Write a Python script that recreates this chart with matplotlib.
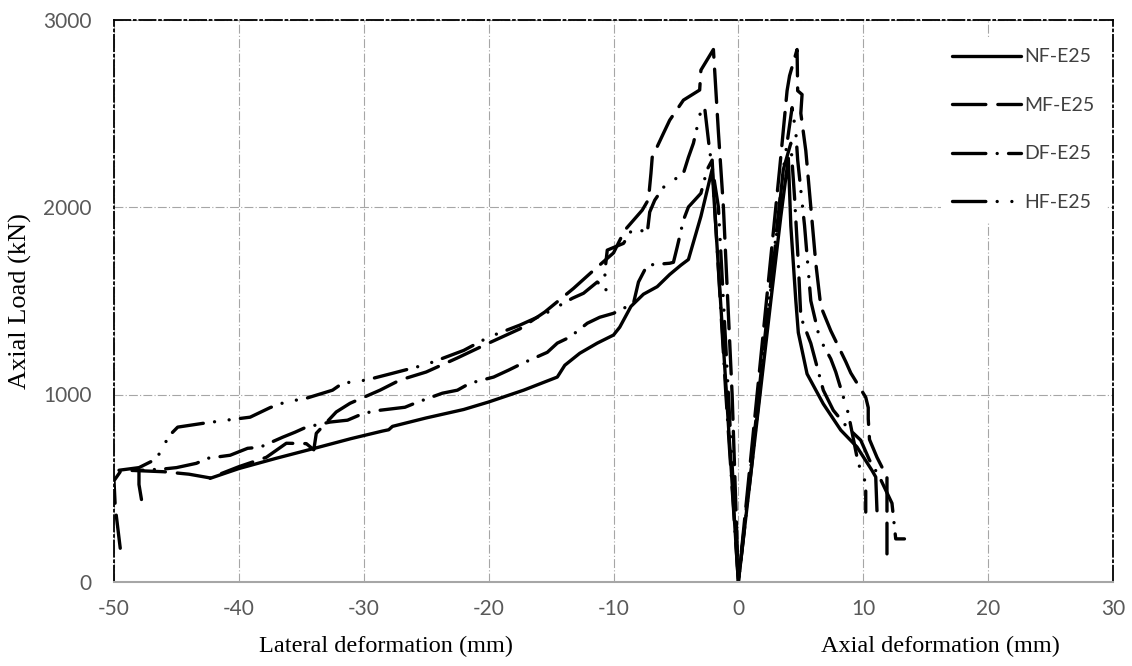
import matplotlib
matplotlib.use("Agg")
import matplotlib.pyplot as plt

plt.rcParams["axes.unicode_minus"] = False

# load-deformation curves: lateral branch (negative x) then axial branch (positive x)
nf_x = [-42.3, -40, -37, -34, -31, -28.5, -28, -27.7, -25, -22, -20, -17.2, -14.5, -13.9,
        -12.7, -11.3, -10.0, -9.5, -8.6, -7.6, -6.5, -5.5, -4.6, -4.0, -3.0, -2.1, -1.0, 0,
        1.3, 2.6, 3.4, 4.0, 4.2, 4.6, 4.8, 5.5, 6.8, 8.2, 9.5, 10.7, 11.0, 11.1]
nf_y = [553, 605, 660, 712, 765, 805, 812, 830, 875, 920, 960, 1023, 1093, 1156,
        1220, 1274, 1317, 1359, 1470, 1535, 1575, 1640, 1690, 1720, 1950, 2200, 1050, 0,
        750, 1500, 1950, 2260, 1900, 1500, 1330, 1110, 950, 810, 720, 595, 560, 380]

mf_x = [-49.5, -49.9, -50, -49.5, -48.5, -46, -44, -42.3, -40, -37.8, -36.2, -34.6, -34.0,
        -33.8, -32.2, -31.1, -28.7, -27.1, -25, -22.5, -20, -17.5, -15.5, -13.2, -11.6, -10,
        -9.1, -7.7, -7.2, -7.0, -6.9, -6.0, -5.5, -4.4, -3.1, -3.0, -2.0, -1.6, -1.2, -0.5, 0,
        1.2, 2.4, 3.3, 3.9, 4.1, 4.7, 4.75, 5.1, 5.0, 5.4, 5.6, 5.8, 6.2, 6.6, 7.4, 8.6, 9.0,
        10.2, 10.4, 10.4, 10.5, 11.1, 11.9, 11.9]
mf_y = [180, 400, 540, 588, 595, 588, 575, 555, 615, 665, 740, 738, 705,
        793, 907, 953, 1023, 1077, 1120, 1195, 1274, 1350, 1440, 1566, 1662, 1755,
        1876, 1983, 2040, 2180, 2265, 2393, 2463, 2570, 2624, 2730, 2840, 2400, 2000, 1000, 0,
        800, 1600, 2200, 2620, 2700, 2840, 2620, 2600, 2500, 2300, 2150, 2000, 1700, 1470, 1340, 1175, 1115,
        985, 930, 870, 760, 665, 560, 150]

df_x = [-47.8, -48.0, -48, -46, -45, -43.4, -42.5, -40.7, -39.3, -38.3, -36.5, -35.5, -34.6,
        -32.7, -31.3, -30, -28.7, -26.7, -25.7, -23.7, -22.5, -21.5, -19.6, -18.4, -17.3, -15.3,
        -14.5, -13.5, -12.1, -11.1, -10, -8.4, -8.0, -7.3, -5.5, -5.2, -4.9, -4.4, -4.0, -3.0,
        -2.5, -2.1, -1.9, -1.0, 0,
        1.3, 2.6, 3.6, 4.2, 4.5, 4.8, 5.0, 5.8, 6.8, 7.6, 8.7, 9.8, 10.5, 11.3, 12.3, 12.6, 13.3]
df_y = [440, 520, 595, 603, 610, 633, 660, 676, 713, 719, 772, 799, 826,
        853, 863, 900, 916, 932, 959, 1007, 1023, 1060, 1093, 1130, 1166, 1225,
        1274, 1306, 1380, 1412, 1433, 1486, 1600, 1690, 1700, 1705, 1786, 1930, 2000, 2073,
        2200, 2250, 2000, 1000, 0,
        800, 1600, 2200, 2340, 2050, 1700, 1413, 1273, 1023, 916, 826, 756, 650, 560, 420, 230, 230]

hf_x = [-49.6, -48, -46.8, -46.1, -45.7, -44.9, -42.9, -41, -39.1, -37.5, -36.3, -34.6, -32.5,
        -31.7, -29.8, -27.7, -25, -22, -20, -17.5, -15.5, -13.3, -12.4, -11.3, -10.6, -10.7,
        -10.5, -9.2, -8.4, -7.6, -7.3, -7.1, -6.7, -6, -4.4, -4.0, -3.6, -3.0, -2.7, -2.3, -1.6,
        -0.8, 0,
        1.2, 2.5, 3.6, 4.3, 4.6, 4.75, 5.3, 5.8, 6.5, 7.4, 7.8, 8.8, 9.6, 9.9, 10.2, 10.2]
hf_y = [596, 610, 650, 705, 772, 826, 846, 863, 879, 930, 959, 980, 1023,
        1060, 1077, 1113, 1160, 1235, 1306, 1370, 1430, 1513, 1540, 1600, 1556, 1650,
        1770, 1806, 1892, 1870, 1860, 1973, 2036, 2105, 2180, 2265, 2340, 2515, 2530, 2300, 2000,
        1000, 0,
        700, 1500, 2200, 2530, 2400, 2250, 1900, 1500, 1300, 1190, 1120, 900, 632, 585, 525, 373]

labels = ["NF-E25", "MF-E25", "DF-E25", "HF-E25"]
dashes = [None, (10, 3.6), (10, 3.4, 0.01, 3.4), (10, 3.4, 0.01, 4.4, 0.01, 3.4)]

fig = plt.figure(figsize=(11.32, 6.66), dpi=100)
ax = fig.add_axes([114 / 1132, 1 - 582 / 666, 999 / 1132, 562.5 / 666])

series = [(nf_x, nf_y), (mf_x, mf_y), (df_x, df_y), (hf_x, hf_y)]
for (xs, ys), lab, d in zip(series, labels, dashes):
    line, = ax.plot(xs, ys, color="black", lw=2.4, label=lab,
                    solid_capstyle="round", dash_capstyle="round", solid_joinstyle="round")
    if d is not None:
        line.set_dashes(d)

ax.set_xlim(-50, 30)
ax.set_ylim(0, 3000)
ax.set_xticks(range(-50, 31, 10))
ax.set_yticks([0, 1000, 2000, 3000])
ax.grid(True, color="#a6a6a6", lw=0.8, linestyle=(0, (8, 2, 1, 2)))
ax.set_axisbelow(True)

for side in ["top", "left", "right"]:
    ax.spines[side].set_color("black")
    ax.spines[side].set_linewidth(1.3)
    ax.spines[side].set_linestyle((0, (9, 2, 1, 2)))
ax.spines["bottom"].set_color("#a6a6a6")
ax.spines["bottom"].set_linewidth(1.5)

ax.tick_params(length=0, labelsize=15, labelcolor="#595959")
ax.tick_params(axis="y", pad=16)
ax.tick_params(axis="x", pad=12)
for t in ax.get_xticklabels() + ax.get_yticklabels():
    t.set_fontfamily("Lato")

ax.set_ylabel("Axial Load (kN)", fontfamily="Liberation Serif", fontsize=19, labelpad=8)
fig.text(386 / 1132, 1 - 646 / 666, "Lateral deformation (mm)", fontfamily="Liberation Serif",
         fontsize=17.5, ha="center", va="center")
fig.text(940 / 1132, 1 - 646 / 666, "Axial deformation (mm)", fontfamily="Liberation Serif",
         fontsize=17.5, ha="center", va="center")

leg = ax.legend(loc="upper left", bbox_to_anchor=(931 / 1132, 1 - 27 / 666),
                bbox_transform=fig.transFigure, frameon=True, fancybox=False,
                edgecolor="none", facecolor="white", framealpha=1,
                prop={"family": "Lato", "size": 14}, handlelength=3.55,
                handletextpad=0.15, labelspacing=1.62, borderpad=0.6)
for t in leg.get_texts():
    t.set_color("#404040")

fig.savefig("out.png", dpi=100)
